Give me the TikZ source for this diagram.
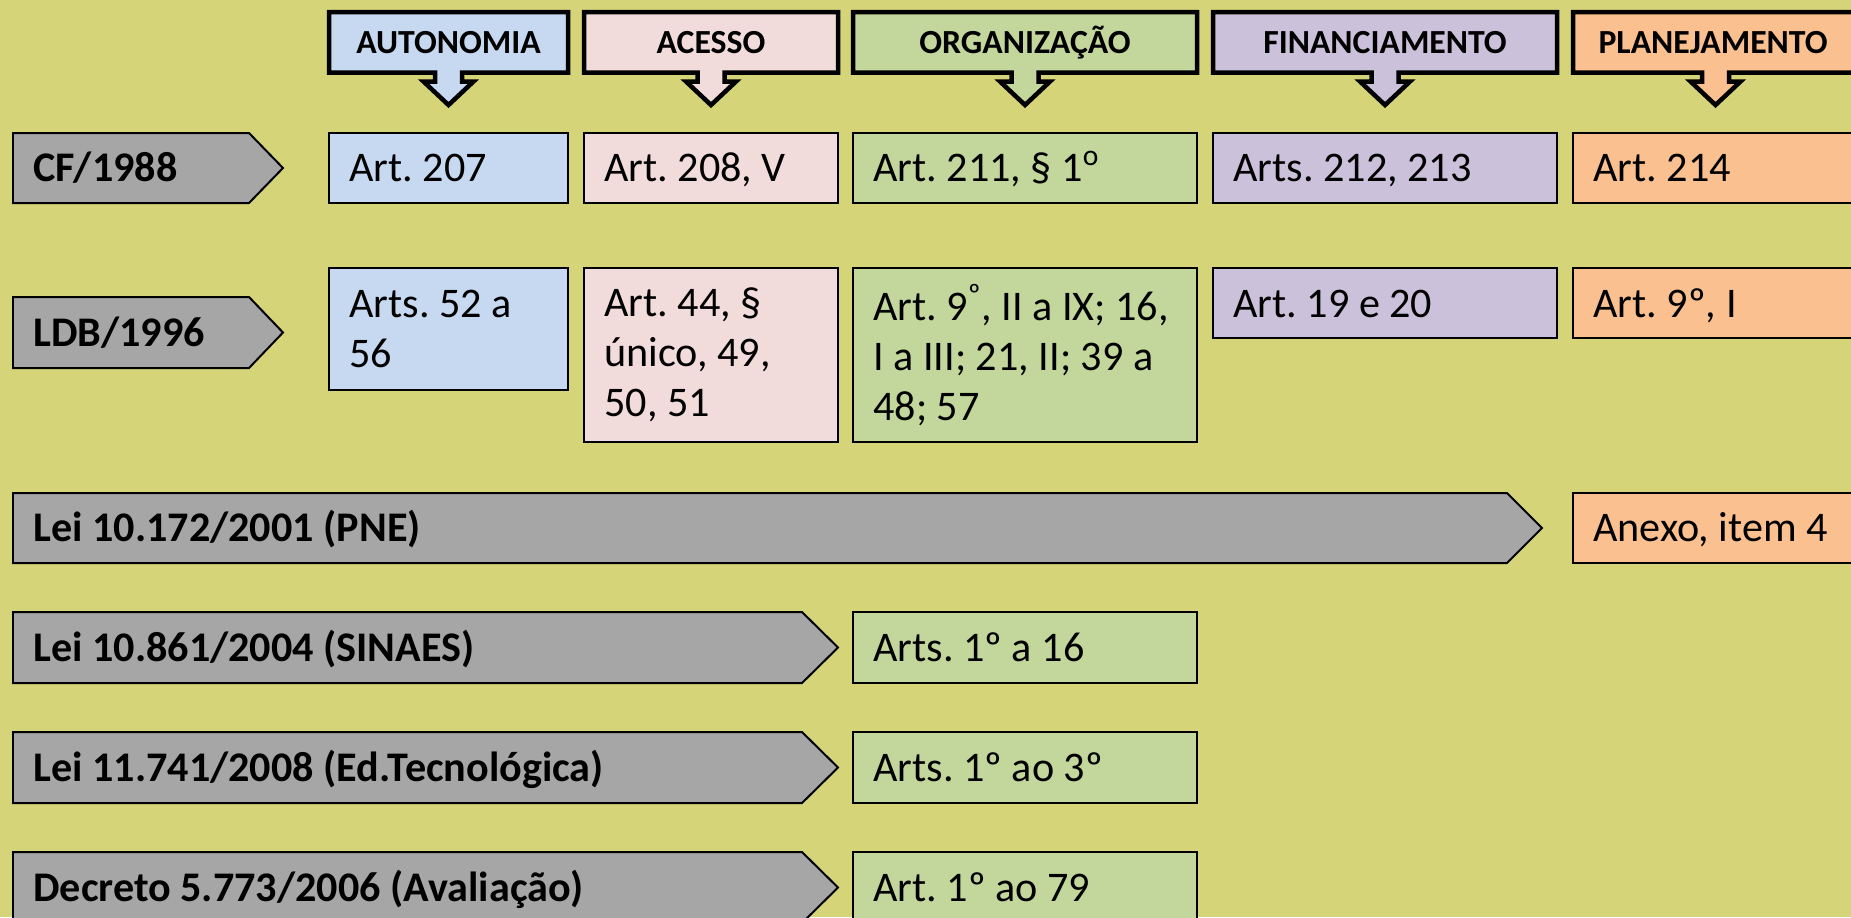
\documentclass[tikz,border=0pt]{standalone}
\usepackage{fontspec}
\setmainfont{Carlito}
\frenchspacing
\definecolor{fundo}{RGB}{213,212,121}
\definecolor{azul}{HTML}{C6D9F1}
\definecolor{rosa}{HTML}{F2DCDB}
\definecolor{verde}{HTML}{C3D69B}
\definecolor{lilas}{HTML}{CCC1DA}
\definecolor{laranja}{HTML}{FAC090}
\definecolor{cinza}{HTML}{A6A6A6}
\tikzset{
	cabecalho/.style={draw=black, line width=0.09cm},
	caixa/.style={draw=black, line width=0.04cm},
	setalei/.style={draw=black, line width=0.04cm, fill=cinza},
	titulo/.style={anchor=base, inner sep=0pt, font=\fontsize{19.2}{23}\selectfont\bfseries},
	artigo/.style={anchor=base west, inner sep=0pt, align=left, font=\fontsize{24}{28.4}\selectfont},
	lei/.style={anchor=base west, inner sep=0pt, font=\fontsize{24}{28.4}\selectfont\bfseries},
}
\begin{document}
\frenchspacing
\begin{tikzpicture}[x=0.02cm, y=-0.02cm]
		\useasboundingbox (0,0) rectangle (1851,917);
		\clip (0,0) rectangle (1851,917);
		\fill[fundo] (0,0) rectangle (1851,917);

		% cabecalhos
		\draw[cabecalho, fill=azul] (329,12) -- (568,12) -- (568,72.5) -- (462,72.5) -- (462,81.5) -- (473.5,81.5) -- (448.5,105) -- (423.5,81.5) -- (435,81.5) -- (435,72.5) -- (329,72.5) -- cycle;
		\node[titulo] (autonomia) at (448.5,53) {AUTONOMIA};
		\draw[cabecalho, fill=rosa] (584,12) -- (838,12) -- (838,72.5) -- (724.5,72.5) -- (724.5,81.5) -- (736,81.5) -- (711,105) -- (686,81.5) -- (697.5,81.5) -- (697.5,72.5) -- (584,72.5) -- cycle;
		\node[titulo] (acesso) at (711,53) {ACESSO};
		\draw[cabecalho, fill=verde] (853,12) -- (1197,12) -- (1197,72.5) -- (1038.5,72.5) -- (1038.5,81.5) -- (1050,81.5) -- (1025,105) -- (1000,81.5) -- (1011.5,81.5) -- (1011.5,72.5) -- (853,72.5) -- cycle;
		\node[titulo] (organizacao) at (1025,53) {ORGANIZAÇÃO};
		\draw[cabecalho, fill=lilas] (1213,12) -- (1557,12) -- (1557,72.5) -- (1398.5,72.5) -- (1398.5,81.5) -- (1410,81.5) -- (1385,105) -- (1360,81.5) -- (1371.5,81.5) -- (1371.5,72.5) -- (1213,72.5) -- cycle;
		\node[titulo] (financiamento) at (1385,53) {FINANCIAMENTO};
		\draw[cabecalho, fill=laranja] (1573,12) -- (1860,12) -- (1860,72.5) -- (1729,72.5) -- (1729,81.5) -- (1740.5,81.5) -- (1715.5,105) -- (1690.5,81.5) -- (1702,81.5) -- (1702,72.5) -- (1573,72.5) -- cycle;
		\node[titulo] (planejamento) at (1713,53) {PLANEJAMENTO};

		% CF/1988
		\draw[setalei] (13,133) -- (249,133) -- (283,168) -- (249,203) -- (13,203) -- cycle;
		\node[lei] (cf) at (33,181.5) {CF/1988};
		\draw[caixa, fill=azul] (329,133) rectangle (568,203);
		\node[artigo] (cf-aut) at (349,181.5) {Art. 207};
		\draw[caixa, fill=rosa] (584,133) rectangle (838,203);
		\node[artigo] (cf-ace) at (604,181.5) {Art. 208, V};
		\draw[caixa, fill=verde] (853,133) rectangle (1197,203);
		\node[artigo] (cf-org) at (873,181.5) {Art. 211, § 1\textsuperscript{o}};
		\draw[caixa, fill=lilas] (1213,133) rectangle (1557,203);
		\node[artigo] (cf-fin) at (1233,181.5) {Arts. 212, 213};
		\draw[caixa, fill=laranja] (1573,133) rectangle (1860,203);
		\node[artigo] (cf-pla) at (1593,181.5) {Art. 214};

		% LDB/1996
		\draw[setalei] (13,297) -- (249,297) -- (283,332.5) -- (249,368) -- (13,368) -- cycle;
		\node[lei] (ldb) at (33,346) {LDB/1996};
		\draw[caixa, fill=azul] (329,268) rectangle (568,390);
		\node[artigo, anchor=west] (ldb-aut) at (349,329) {Arts. 52 a\\56};
		\draw[caixa, fill=rosa] (584,268) rectangle (838,442);
		\node[artigo, anchor=west] (ldb-ace) at (604,355) {Art. 44, §\\único, 49,\\50, 51};
		\draw[caixa, fill=verde] (853,268) rectangle (1197,442);
		\node[artigo, anchor=west] (ldb-org) at (873,355) {Art. 9\textsuperscript{º}, II a IX; 16,\\I a III; 21, II; 39 a\\48; 57};
		\draw[caixa, fill=lilas] (1213,268) rectangle (1557,338);
		\node[artigo] (ldb-fin) at (1233,317) {Art. 19 e 20};
		\draw[caixa, fill=laranja] (1573,268) rectangle (1860,338);
		\node[artigo] (ldb-pla) at (1593,317) {Art. 9º, I};

		% PNE
		\draw[setalei] (13,493) -- (1507,493) -- (1542,528) -- (1507,563) -- (13,563) -- cycle;
		\node[lei] (pne) at (33,541.5) {Lei 10.172/2001 (PNE)};
		\draw[caixa, fill=laranja] (1573,493) rectangle (1860,563);
		\node[artigo] (pne-pla) at (1593,541.5) {Anexo, item 4};

		% SINAES
		\draw[setalei] (13,612) -- (802,612) -- (838,647.5) -- (802,683) -- (13,683) -- cycle;
		\node[lei] (sinaes) at (33,661) {Lei 10.861/2004 (SINAES)};
		\draw[caixa, fill=verde] (853,612) rectangle (1197,683);
		\node[artigo] (sinaes-org) at (873,661) {Arts. 1º a 16};

		% Ed. tecnologica
		\draw[setalei] (13,732) -- (802,732) -- (838,767.5) -- (802,803) -- (13,803) -- cycle;
		\node[lei] (tec) at (33,781) {Lei 11.741/2008 (Ed.Tecnológica)};
		\draw[caixa, fill=verde] (853,732) rectangle (1197,803);
		\node[artigo] (tec-org) at (873,781) {Arts. 1º ao 3º};

		% decreto
		\draw[setalei] (13,852) -- (802,852) -- (838,887.5) -- (802,923) -- (13,923) -- cycle;
		\node[lei] (decreto) at (33,901) {Decreto 5.773/2006 (Avaliação)};
		\draw[caixa, fill=verde] (853,852) rectangle (1197,923);
		\node[artigo] (decreto-org) at (873,901) {Art. 1º ao 79};
	\end{tikzpicture}
\end{document}
